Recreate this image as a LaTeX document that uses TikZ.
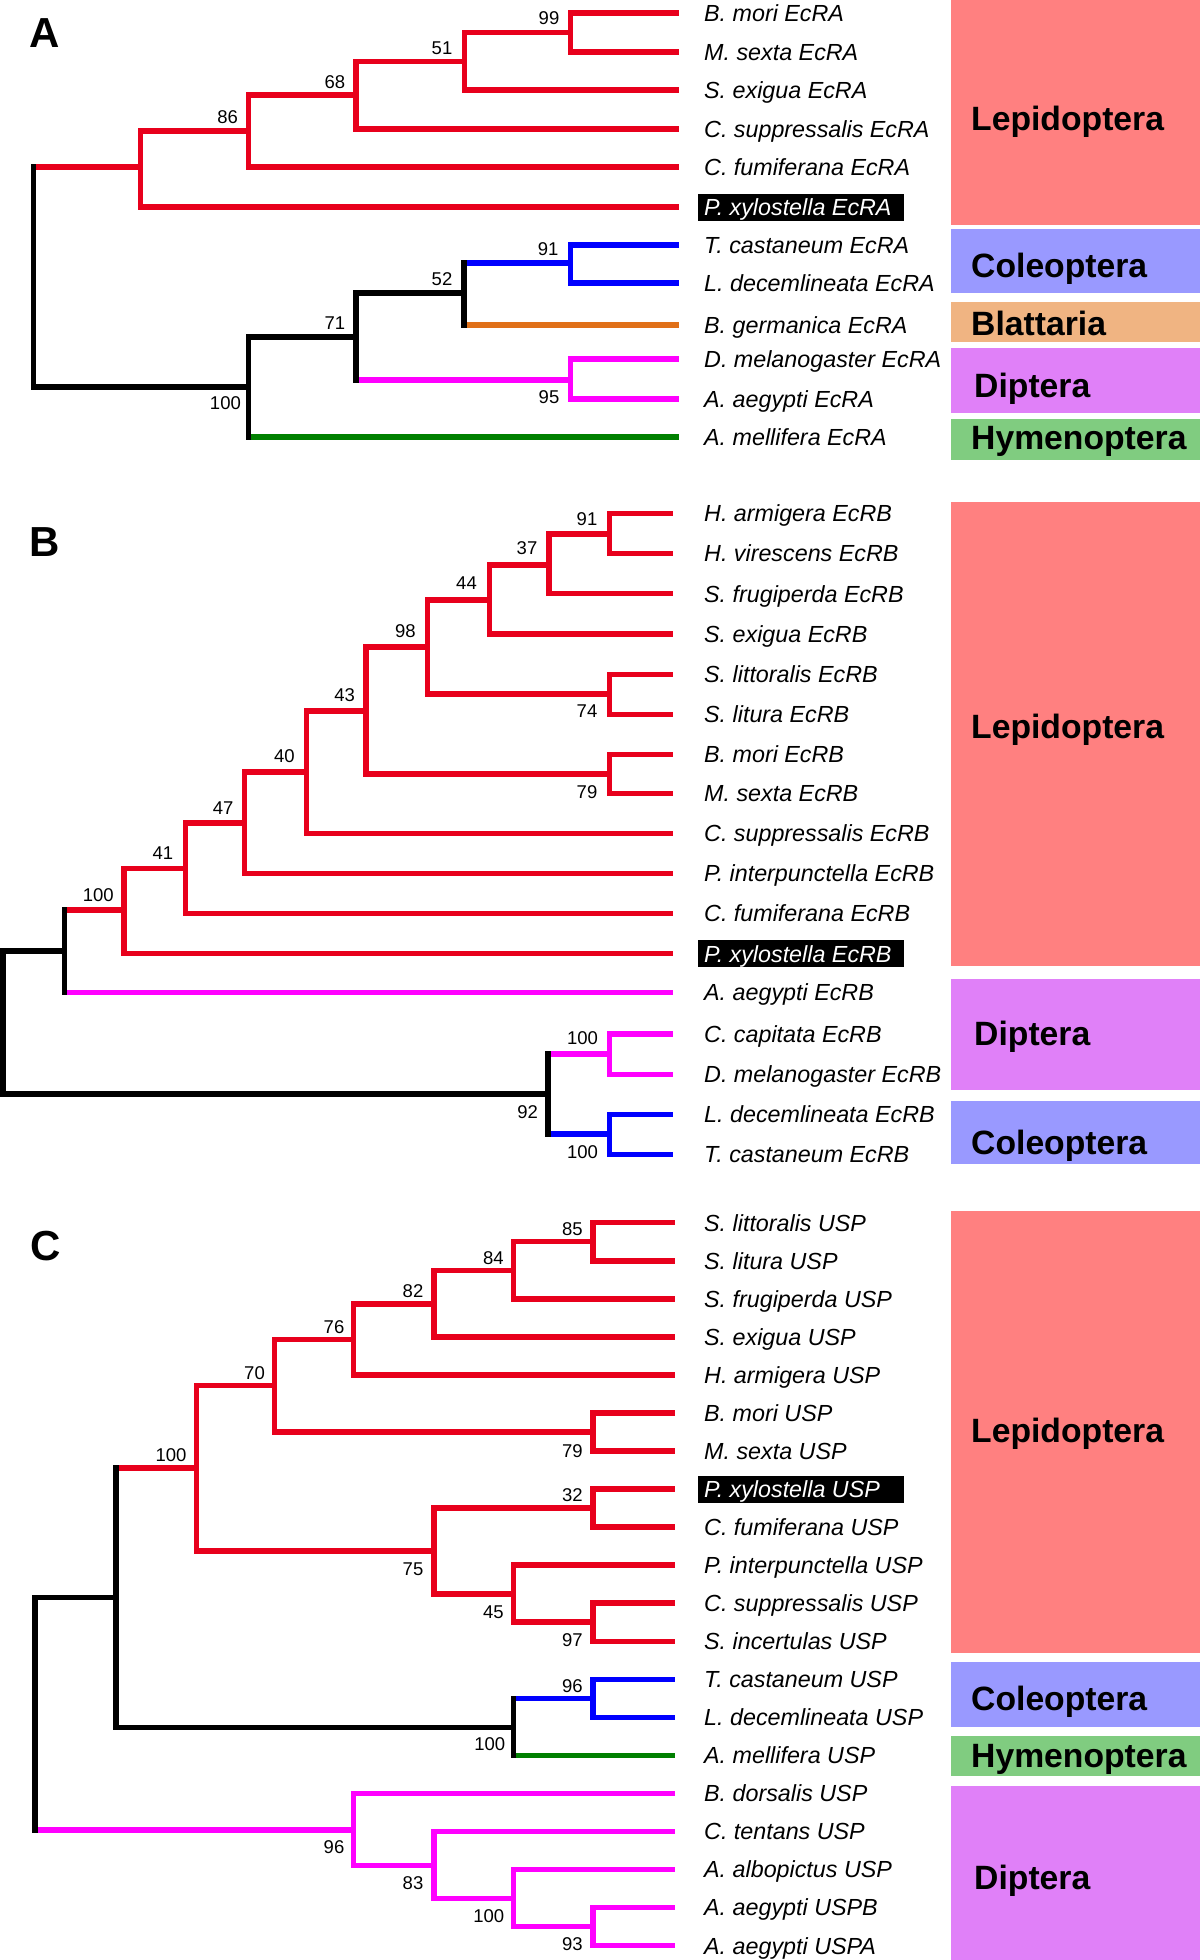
\documentclass[tikz,border=0pt]{standalone}
\usepackage{fontspec}
\setmainfont{Liberation Sans}
\definecolor{tred}{RGB}{232,0,28}
\definecolor{tblue}{RGB}{0,0,255}
\definecolor{tmag}{RGB}{255,0,255}
\definecolor{torange}{RGB}{224,112,24}
\definecolor{tgreen}{RGB}{0,128,0}
\definecolor{clep}{RGB}{255,128,128}
\definecolor{ccol}{RGB}{153,153,255}
\definecolor{cbla}{RGB}{240,180,130}
\definecolor{cdip}{RGB}{224,128,248}
\definecolor{chym}{RGB}{128,204,128}
\tikzset{
  br/.style={line width=5.5pt, line cap=butt},
  vb/.style={line width=5.5pt, line cap=rect},
  la/.style={shorten >=19pt},
  lb/.style={shorten >=25pt},
  lc/.style={shorten >=23pt},
  lab/.style={anchor=west, inner xsep=6pt, inner ysep=0pt, font=\fontsize{23.3}{28}\selectfont\itshape, text height=16.7pt, text depth=0pt},
  hl/.style={lab, fill=black, text=white, text height=22pt, text depth=5pt},
  num/.style={inner sep=0pt, font=\fontsize{18.5}{22}\selectfont, text height=13.2pt, text depth=0pt},
  cat/.style={anchor=west, inner sep=0pt, font=\fontsize{33.7}{40}\selectfont\bfseries, text height=24pt, text depth=0pt},
  blk/.style={anchor=north west, inner sep=0pt, draw=none, minimum width=249pt},
  panel/.style={inner sep=0pt, font=\fontsize{42}{50}\selectfont\bfseries, text height=30pt, text depth=0pt},
}
\begin{document}
\begin{tikzpicture}[x=1pt,y=-1pt]
\useasboundingbox (0,0) rectangle (1200,1960);

% ---------------- category blocks ----------------
\node[blk, fill=clep, minimum height=225pt] (kAlep) at (951,0) {};
\node[blk, fill=ccol, minimum height=64pt] (kAcol) at (951,229) {};
\node[blk, fill=cbla, minimum height=40pt] (kAbla) at (951,302) {};
\node[blk, fill=cdip, minimum height=65pt] (kAdip) at (951,348) {};
\node[blk, fill=chym, minimum height=41pt] (kAhym) at (951,419) {};
\node[blk, fill=clep, minimum height=464pt] (kBlep) at (951,502) {};
\node[blk, fill=cdip, minimum height=111pt] (kBdip) at (951,979) {};
\node[blk, fill=ccol, minimum height=63pt] (kBcol) at (951,1101) {};
\node[blk, fill=clep, minimum height=442pt] (kClep) at (951,1211) {};
\node[blk, fill=ccol, minimum height=65pt] (kCcol) at (951,1662) {};
\node[blk, fill=chym, minimum height=40pt] (kChym) at (951,1736) {};
\node[blk, fill=cdip, minimum height=174pt] (kCdip) at (951,1786) {};

\node[cat] (tAlep) at (971,118) {Lepidoptera};
\node[cat] (tAcol) at (971,265) {Coleoptera};
\node[cat] (tAbla) at (971,323) {Blattaria};
\node[cat] (tAdip) at (974,385) {Diptera};
\node[cat] (tAhym) at (971,437) {Hymenoptera};
\node[cat] (tBlep) at (971,726) {Lepidoptera};
\node[cat] (tBdip) at (974,1033) {Diptera};
\node[cat] (tBcol) at (971,1142) {Coleoptera};
\node[cat] (tClep) at (971,1430) {Lepidoptera};
\node[cat] (tCcol) at (971,1698) {Coleoptera};
\node[cat] (tChym) at (971,1755) {Hymenoptera};
\node[cat] (tCdip) at (974,1877) {Diptera};

% ---------------- panel letters ----------------
\node[panel] (pA) at (45,32.5) {A};
\node[panel] (pB) at (45,541.7) {B};
\node[panel] (pC) at (46,1245) {C};

% ================= PANEL A =================
\node[lab] (a1) at (698,13) {B. mori EcRA};
\node[lab] (a2) at (698,52) {M. sexta EcRA};
\node[lab] (a3) at (698,90) {S. exigua EcRA};
\node[lab] (a4) at (698,129) {C. suppressalis EcRA};
\node[lab] (a5) at (698,167) {C. fumiferana EcRA};
\node[hl]  (a6) at (698,207) {\makebox[194pt][l]{P. xylostella EcRA}};
\node[lab] (a7) at (698,245) {T. castaneum EcRA};
\node[lab] (a8) at (698,283) {L. decemlineata EcRA};
\node[lab] (a9) at (698,325) {B. germanica EcRA};
\node[lab] (a10) at (698,359) {D. melanogaster EcRA};
\node[lab] (a11) at (698,399) {A. aegypti EcRA};
\node[lab] (a12) at (698,437) {A. mellifera EcRA};

\coordinate (nA99) at (570.5,32.5);
\coordinate (nA51) at (464.3,61.7);
\coordinate (nA68) at (355.8,95);
\coordinate (nA86) at (248.7,131);
\coordinate (nALep) at (140.6,167);
\coordinate (nA91) at (570.5,263);
\coordinate (nA52) at (464,293);
\coordinate (nA95) at (570.5,380);
\coordinate (nA71) at (355.8,337);
\coordinate (nA100) at (248.7,387);
\coordinate (nAroot) at (33.5,277);

\draw[br,tred,la] (nA99|-a1) -- (a1.west);
\draw[br,tred,la] (nA99|-a2) -- (a2.west);
\draw[br,tred] (nA51|-nA99) -- (nA99);
\draw[br,tred,la] (nA51|-a3) -- (a3.west);
\draw[br,tred] (nA68|-nA51) -- (nA51);
\draw[br,tred,la] (nA68|-a4) -- (a4.west);
\draw[br,tred] (nA86|-nA68) -- (nA68);
\draw[br,tred,la] (nA86|-a5) -- (a5.west);
\draw[br,tred] (nALep|-nA86) -- (nA86);
\draw[br,tred,la] (nALep|-a6) -- (a6.west);
\draw[br,tred] (nAroot|-nALep) -- (nALep);
\draw[br,black] (nAroot|-nA100) -- (nA100);
\draw[br,black] (nA100|-nA71) -- (nA71);
\draw[br,tgreen,la] (nA100|-a12) -- (a12.west);
\draw[br,black] (nA71|-nA52) -- (nA52);
\draw[br,tmag] (nA71|-nA95) -- (nA95);
\draw[br,tblue] (nA52|-nA91) -- (nA91);
\draw[br,torange,la] (nA52|-a9) -- (a9.west);
\draw[br,tblue,la] (nA91|-a7) -- (a7.west);
\draw[br,tblue,la] (nA91|-a8) -- (a8.west);
\draw[br,tmag,la] (nA95|-a10) -- (a10.west);
\draw[br,tmag,la] (nA95|-a11) -- (a11.west);

\draw[vb,tred] (nA99|-a1) -- (nA99|-a2);
\draw[vb,tred] (nA51|-nA99) -- (nA51|-a3);
\draw[vb,tred] (nA68|-nA51) -- (nA68|-a4);
\draw[vb,tred] (nA86|-nA68) -- (nA86|-a5);
\draw[vb,tred] (nALep|-nA86) -- (nALep|-a6);
\draw[vb,black] (nAroot|-nALep) -- (nAroot|-nA100);
\draw[vb,black] (nA100|-nA71) -- (nA100|-a12);
\draw[vb,black] (nA71|-nA52) -- (nA71|-nA95);
\draw[vb,black] (nA52|-nA91) -- (nA52|-a9);
\draw[vb,tblue] (nA91|-a7) -- (nA91|-a8);
\draw[vb,tmag] (nA95|-a10) -- (nA95|-a11);

\node[num] (sA99) at (549,18.3) {99};
\node[num] (sA51) at (442,48.3) {51};
\node[num] (sA68) at (334.8,81.7) {68};
\node[num] (sA86) at (227.7,116.7) {86};
\node[num] (sA91) at (548.2,249.3) {91};
\node[num] (sA52) at (442,279.3) {52};
\node[num] (sA71) at (334.8,322.7) {71};
\node[num] (sA95) at (549,396.7) {95};
\node[num] (sA100) at (225.4,403.3) {100};

% ================= PANEL B =================
\node[lab] (b1) at (698,513.3) {H. armigera EcRB};
\node[lab] (b2) at (698,553.4) {H. virescens EcRB};
\node[lab] (b3) at (698,593.7) {S. frugiperda EcRB};
\node[lab] (b4) at (698,633.8) {S. exigua EcRB};
\node[lab] (b5) at (698,674.3) {S. littoralis EcRB};
\node[lab] (b6) at (698,714.3) {S. litura EcRB};
\node[lab] (b7) at (698,754.6) {B. mori EcRB};
\node[lab] (b8) at (698,793.5) {M. sexta EcRB};
\node[lab] (b9) at (698,833.5) {C. suppressalis EcRB};
\node[lab] (b10) at (698,873.5) {P. interpunctella EcRB};
\node[lab] (b11) at (698,913.5) {C. fumiferana EcRB};
\node[hl]  (b12) at (698,953.5) {\makebox[194pt][l]{P. xylostella EcRB}};
\node[lab] (b13) at (698,992.5) {A. aegypti EcRB};
\node[lab] (b14) at (698,1034) {C. capitata EcRB};
\node[lab] (b15) at (698,1074.3) {D. melanogaster EcRB};
\node[lab] (b16) at (698,1114.3) {L. decemlineata EcRB};
\node[lab] (b17) at (698,1154.3) {T. castaneum EcRB};

\coordinate (nB91) at (609.4,534);
\coordinate (nB37) at (549,565);
\coordinate (nB44) at (489.7,600);
\coordinate (nB98) at (427.7,647);
\coordinate (nB74) at (609.4,694);
\coordinate (nB43) at (366,711);
\coordinate (nB79) at (609.4,774);
\coordinate (nB40) at (306.7,772);
\coordinate (nB47) at (244.6,823);
\coordinate (nB41) at (185.3,868.5);
\coordinate (nB100) at (124.1,910);
\coordinate (nBe) at (64.7,951);
\coordinate (nBd) at (609.4,1054);
\coordinate (nBc) at (609.4,1134);
\coordinate (nB92) at (548.2,1094);
\coordinate (nBroot) at (3.2,1020);

\draw[br,tred,lb] (nB91|-b1) -- (b1.west);
\draw[br,tred,lb] (nB91|-b2) -- (b2.west);
\draw[br,tred] (nB37|-nB91) -- (nB91);
\draw[br,tred,lb] (nB37|-b3) -- (b3.west);
\draw[br,tred] (nB44|-nB37) -- (nB37);
\draw[br,tred,lb] (nB44|-b4) -- (b4.west);
\draw[br,tred] (nB98|-nB44) -- (nB44);
\draw[br,tred] (nB98|-nB74) -- (nB74);
\draw[br,tred,lb] (nB74|-b5) -- (b5.west);
\draw[br,tred,lb] (nB74|-b6) -- (b6.west);
\draw[br,tred] (nB43|-nB98) -- (nB98);
\draw[br,tred] (nB43|-nB79) -- (nB79);
\draw[br,tred,lb] (nB79|-b7) -- (b7.west);
\draw[br,tred,lb] (nB79|-b8) -- (b8.west);
\draw[br,tred] (nB40|-nB43) -- (nB43);
\draw[br,tred,lb] (nB40|-b9) -- (b9.west);
\draw[br,tred] (nB47|-nB40) -- (nB40);
\draw[br,tred,lb] (nB47|-b10) -- (b10.west);
\draw[br,tred] (nB41|-nB47) -- (nB47);
\draw[br,tred,lb] (nB41|-b11) -- (b11.west);
\draw[br,tred] (nB100|-nB41) -- (nB41);
\draw[br,tred,lb] (nB100|-b12) -- (b12.west);
\draw[br,tred] (nBe|-nB100) -- (nB100);
\draw[br,tmag,lb] (nBe|-b13) -- (b13.west);
\draw[br,black] (nBroot|-nBe) -- (nBe);
\draw[br,black] (nBroot|-nB92) -- (nB92);
\draw[br,tmag] (nB92|-nBd) -- (nBd);
\draw[br,tblue] (nB92|-nBc) -- (nBc);
\draw[br,tmag,lb] (nBd|-b14) -- (b14.west);
\draw[br,tmag,lb] (nBd|-b15) -- (b15.west);
\draw[br,tblue,lb] (nBc|-b16) -- (b16.west);
\draw[br,tblue,lb] (nBc|-b17) -- (b17.west);

\draw[vb,tred] (nB91|-b1) -- (nB91|-b2);
\draw[vb,tred] (nB37|-nB91) -- (nB37|-b3);
\draw[vb,tred] (nB44|-nB37) -- (nB44|-b4);
\draw[vb,tred] (nB98|-nB44) -- (nB98|-nB74);
\draw[vb,tred] (nB74|-b5) -- (nB74|-b6);
\draw[vb,tred] (nB43|-nB98) -- (nB43|-nB79);
\draw[vb,tred] (nB79|-b7) -- (nB79|-b8);
\draw[vb,tred] (nB40|-nB43) -- (nB40|-b9);
\draw[vb,tred] (nB47|-nB40) -- (nB47|-b10);
\draw[vb,tred] (nB41|-nB47) -- (nB41|-b11);
\draw[vb,tred] (nB100|-nB41) -- (nB100|-b12);
\draw[vb,black] (nBe|-nB100) -- (nBe|-b13);
\draw[vb,black] (nBroot|-nBe) -- (nBroot|-nB92);
\draw[vb,black] (nB92|-nBd) -- (nB92|-nBc);
\draw[vb,tmag] (nBd|-b14) -- (nBd|-b15);
\draw[vb,tblue] (nBc|-b16) -- (nBc|-b17);

\node[num] (sB91) at (587,519.3) {91};
\node[num] (sB37) at (527,548.3) {37};
\node[num] (sB44) at (466.5,583.3) {44};
\node[num] (sB98) at (405.4,630.7) {98};
\node[num] (sB74) at (587,710.7) {74};
\node[num] (sB43) at (344.6,695) {43};
\node[num] (sB79) at (587,791.7) {79};
\node[num] (sB40) at (284.4,756) {40};
\node[num] (sB47) at (223.2,807.7) {47};
\node[num] (sB41) at (163,852.7) {41};
\node[num] (sB100) at (98.2,895) {100};
\node[num] (sB92) at (527.7,1111.7) {92};
\node[num] (sBd) at (582.6,1038.3) {100};
\node[num] (sBc) at (582.6,1151.7) {100};

% ================= PANEL C =================
\node[lab] (c1) at (698,1222.7) {S. littoralis USP};
\node[lab] (c2) at (698,1260.75) {S. litura USP};
\node[lab] (c3) at (698,1298.8) {S. frugiperda USP};
\node[lab] (c4) at (698,1336.85) {S. exigua USP};
\node[lab] (c5) at (698,1374.9) {H. armigera USP};
\node[lab] (c6) at (698,1412.95) {B. mori USP};
\node[lab] (c7) at (698,1451) {M. sexta USP};
\node[hl]  (c8) at (698,1489.05) {\makebox[194pt][l]{P. xylostella USP}};
\node[lab] (c9) at (698,1527.1) {C. fumiferana USP};
\node[lab] (c10) at (698,1565.15) {P. interpunctella USP};
\node[lab] (c11) at (698,1603.2) {C. suppressalis USP};
\node[lab] (c12) at (698,1641.25) {S. incertulas USP};
\node[lab] (c13) at (698,1679.3) {T. castaneum USP};
\node[lab] (c14) at (698,1717.35) {L. decemlineata USP};
\node[lab] (c15) at (698,1755.4) {A. mellifera USP};
\node[lab] (c16) at (698,1793.45) {B. dorsalis USP};
\node[lab] (c17) at (698,1831.5) {C. tentans USP};
\node[lab] (c18) at (698,1869.55) {A. albopictus USP};
\node[lab] (c19) at (698,1907.6) {A. aegypti USPB};
\node[lab] (c20) at (698,1945.65) {A. aegypti USPA};

\coordinate (nC85) at (592.9,1241.7);
\coordinate (nC84) at (513.4,1270.5);
\coordinate (nC82) at (434,1304);
\coordinate (nC76) at (353.6,1339.5);
\coordinate (nC79) at (592.9,1432);
\coordinate (nC70) at (274.6,1385.5);
\coordinate (nC32) at (592.9,1508);
\coordinate (nC97) at (592.9,1622.2);
\coordinate (nC45) at (513.4,1594);
\coordinate (nC75) at (434,1551);
\coordinate (nC100L) at (196.4,1468);
\coordinate (nC96b) at (592.9,1698.3);
\coordinate (nC100h) at (513.4,1727.5);
\coordinate (nCk) at (116,1597.5);
\coordinate (nC93) at (592.9,1926.6);
\coordinate (nC100d) at (513.4,1898.3);
\coordinate (nC83) at (434,1865.3);
\coordinate (nC96d) at (353.6,1829.8);
\coordinate (nCroot) at (34.8,1713);

\draw[br,tred,lc] (nC85|-c1) -- (c1.west);
\draw[br,tred,lc] (nC85|-c2) -- (c2.west);
\draw[br,tred] (nC84|-nC85) -- (nC85);
\draw[br,tred,lc] (nC84|-c3) -- (c3.west);
\draw[br,tred] (nC82|-nC84) -- (nC84);
\draw[br,tred,lc] (nC82|-c4) -- (c4.west);
\draw[br,tred] (nC76|-nC82) -- (nC82);
\draw[br,tred,lc] (nC76|-c5) -- (c5.west);
\draw[br,tred] (nC70|-nC76) -- (nC76);
\draw[br,tred] (nC70|-nC79) -- (nC79);
\draw[br,tred,lc] (nC79|-c6) -- (c6.west);
\draw[br,tred,lc] (nC79|-c7) -- (c7.west);
\draw[br,tred] (nC100L|-nC70) -- (nC70);
\draw[br,tred] (nC100L|-nC75) -- (nC75);
\draw[br,tred] (nC75|-nC32) -- (nC32);
\draw[br,tred] (nC75|-nC45) -- (nC45);
\draw[br,tred,lc] (nC32|-c8) -- (c8.west);
\draw[br,tred,lc] (nC32|-c9) -- (c9.west);
\draw[br,tred,lc] (nC45|-c10) -- (c10.west);
\draw[br,tred] (nC45|-nC97) -- (nC97);
\draw[br,tred,lc] (nC97|-c11) -- (c11.west);
\draw[br,tred,lc] (nC97|-c12) -- (c12.west);
\draw[br,tred] (nCk|-nC100L) -- (nC100L);
\draw[br,black] (nCk|-nC100h) -- (nC100h);
\draw[br,tblue] (nC100h|-nC96b) -- (nC96b);
\draw[br,tgreen,lc] (nC100h|-c15) -- (c15.west);
\draw[br,tblue,lc] (nC96b|-c13) -- (c13.west);
\draw[br,tblue,lc] (nC96b|-c14) -- (c14.west);
\draw[br,black] (nCroot|-nCk) -- (nCk);
\draw[br,tmag] (nCroot|-nC96d) -- (nC96d);
\draw[br,tmag,lc] (nC96d|-c16) -- (c16.west);
\draw[br,tmag] (nC96d|-nC83) -- (nC83);
\draw[br,tmag,lc] (nC83|-c17) -- (c17.west);
\draw[br,tmag] (nC83|-nC100d) -- (nC100d);
\draw[br,tmag,lc] (nC100d|-c18) -- (c18.west);
\draw[br,tmag] (nC100d|-nC93) -- (nC93);
\draw[br,tmag,lc] (nC93|-c19) -- (c19.west);
\draw[br,tmag,lc] (nC93|-c20) -- (c20.west);

\draw[vb,tred] (nC85|-c1) -- (nC85|-c2);
\draw[vb,tred] (nC84|-nC85) -- (nC84|-c3);
\draw[vb,tred] (nC82|-nC84) -- (nC82|-c4);
\draw[vb,tred] (nC76|-nC82) -- (nC76|-c5);
\draw[vb,tred] (nC70|-nC76) -- (nC70|-nC79);
\draw[vb,tred] (nC79|-c6) -- (nC79|-c7);
\draw[vb,tred] (nC100L|-nC70) -- (nC100L|-nC75);
\draw[vb,tred] (nC75|-nC32) -- (nC75|-nC45);
\draw[vb,tred] (nC32|-c8) -- (nC32|-c9);
\draw[vb,tred] (nC45|-c10) -- (nC45|-nC97);
\draw[vb,tred] (nC97|-c11) -- (nC97|-c12);
\draw[vb,black] (nCk|-nC100L) -- (nCk|-nC100h);
\draw[vb,black] (nC100h|-nC96b) -- (nC100h|-c15);
\draw[vb,tblue] (nC96b|-c13) -- (nC96b|-c14);
\draw[vb,black] (nCroot|-nCk) -- (nCroot|-nC96d);
\draw[vb,tmag] (nC96d|-c16) -- (nC96d|-nC83);
\draw[vb,tmag] (nC83|-c17) -- (nC83|-nC100d);
\draw[vb,tmag] (nC100d|-c18) -- (nC100d|-nC93);
\draw[vb,tmag] (nC93|-c19) -- (nC93|-c20);

\node[num] (sC85) at (572.3,1229.3) {85};
\node[num] (sC84) at (493.3,1257.7) {84};
\node[num] (sC82) at (413,1291) {82};
\node[num] (sC76) at (334,1326.7) {76};
\node[num] (sC70) at (254.5,1372.7) {70};
\node[num] (sC79) at (572.3,1450.7) {79};
\node[num] (sC100L) at (171,1455) {100};
\node[num] (sC32) at (572.3,1495) {32};
\node[num] (sC75) at (413,1569.3) {75};
\node[num] (sC45) at (493.3,1611.7) {45};
\node[num] (sC97) at (572.3,1640) {97};
\node[num] (sC96b) at (572.3,1686) {96};
\node[num] (sC100h) at (489.7,1744.3) {100};
\node[num] (sC96d) at (334,1847.3) {96};
\node[num] (sC83) at (413,1882.7) {83};
\node[num] (sC100d) at (488.8,1916) {100};
\node[num] (sC93) at (572.3,1944) {93};
\end{tikzpicture}
\end{document}
